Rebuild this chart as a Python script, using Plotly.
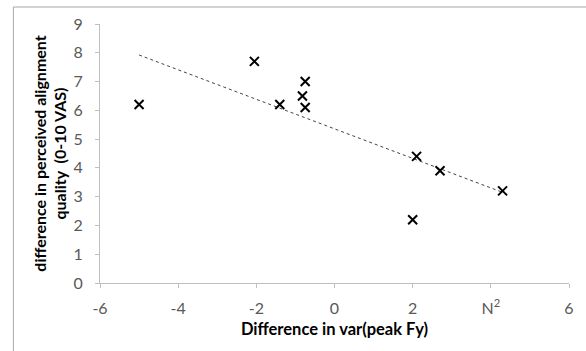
import numpy as np
import plotly.graph_objects as go

x_vals = [-5.0, -2.05, -1.4, -0.75, -0.82, -0.75, 2.1, 2.7, 4.3, 2.0]
y_vals = [6.2, 7.7, 6.2, 7.0, 6.5, 6.1, 4.4, 3.9, 3.2, 2.2]
x_tick_vals = [-6, -4, -2, 0, 2, 4, 6]
x_tick_text = ["-6", "-4", "-2", "0", "2", "N<sup>2</sup>", "6"]
y_tick_vals = [0, 1, 2, 3, 4, 5, 6, 7, 8, 9]

slope, intercept = np.polyfit(x_vals, y_vals, 1)
tx = [min(x_vals), max(x_vals)]
ty = [slope * v + intercept for v in tx]

fig = go.Figure()
fig.add_trace(go.Scatter(x=tx, y=ty, mode="lines",
                         line=dict(color="#444444", width=1, dash="dot"),
                         showlegend=False, hoverinfo="skip"))
fig.add_trace(go.Scatter(x=x_vals, y=y_vals, mode="markers",
                         marker=dict(symbol="x-thin-open", size=9, color="black",
                                     line=dict(color="black", width=2)),
                         showlegend=False))

L, R, T, B = 100, 15, 24, 68
W, H = 586, 351
pw, ph = W - L - R, H - T - B
fx = (13 - L) / pw
fy = (H - B - 7) / ph

fig.update_layout(
    width=W, height=H,
    margin=dict(l=L, r=R, t=T, b=B),
    paper_bgcolor="white", plot_bgcolor="white",
    font=dict(family="Lato, sans-serif", size=14, color="#595959"),
    xaxis=dict(range=[-6, 6], tickvals=x_tick_vals, ticktext=x_tick_text,
               showgrid=False, zeroline=False, showline=True,
               linecolor="#bfbfbf", linewidth=1, ticks="outside",
               ticklen=4, tickcolor="#bfbfbf", ticklabelstandoff=7,
               tickfont=dict(size=16, color="#595959"),
               title=dict(text="<b>Difference in var(peak Fy)</b>",
                          font=dict(size=16.5, color="black"), standoff=7)),
    yaxis=dict(range=[0, 9], tickvals=y_tick_vals,
               showgrid=False, zeroline=False, showline=True,
               linecolor="#bfbfbf", linewidth=1, ticks="outside",
               ticklen=4, tickcolor="#bfbfbf", ticklabelstandoff=9,
               tickfont=dict(size=16, color="#595959"),
               title=dict(text="<b>difference in perceived alignment<br>quality  (0-10 VAS)</b>",
                          font=dict(size=16, color="black"), standoff=2)),
    shapes=[
        dict(type="line", xref="paper", yref="paper", x0=fx, x1=1.2, y0=fy, y1=fy,
             line=dict(color="#a6a6a6", width=1)),
        dict(type="line", xref="paper", yref="paper", x0=fx, x1=fx, y0=fy, y1=-0.5,
             line=dict(color="#a6a6a6", width=1)),
    ],
)

fig.write_html("out.html")
